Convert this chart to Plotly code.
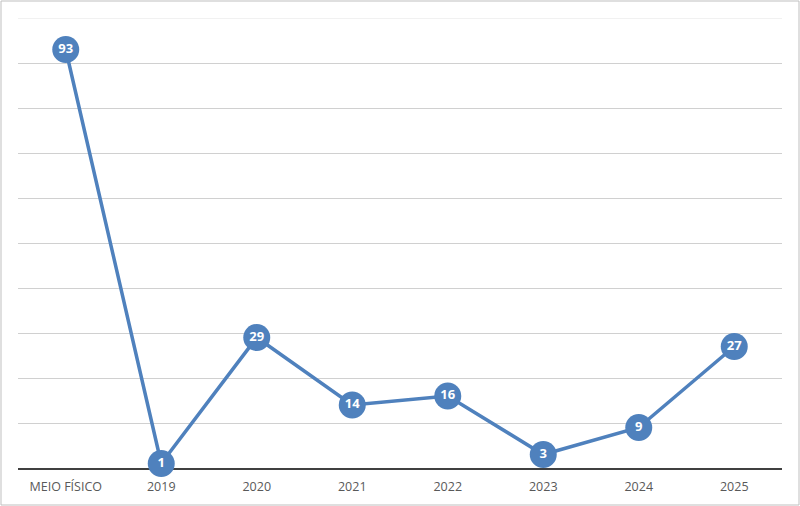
import plotly.graph_objects as go

categories = ["MEIO FÍSICO", "2019", "2020", "2021", "2022", "2023", "2024", "2025"]
values = [93, 1, 29, 14, 16, 3, 9, 27]

W, H = 800, 506
ml, mr, mt, mb = 18, 18, 18, 38
pw, ph = W - ml - mr, H - mt - mb

fig = go.Figure()
fig.add_trace(go.Scatter(
    x=categories, y=values, mode="lines+markers+text",
    line=dict(color="#4F81BD", width=3.5),
    marker=dict(size=27, color="#4F81BD", line=dict(width=0)),
    text=["<b>%d</b>" % v for v in values], textposition="middle center",
    textfont=dict(color="white", size=13, family="Open Sans"),
    cliponaxis=False, hoverinfo="skip",
))

fig.update_layout(
    width=W, height=H, margin=dict(l=ml, r=mr, t=mt, b=mb),
    paper_bgcolor="white", plot_bgcolor="white", showlegend=False,
    xaxis=dict(type="category", showgrid=False, showline=True, linecolor="#404040",
               linewidth=2, ticks="", tickfont=dict(size=12.5, color="#595959", family="Open Sans"),
               layer="below traces", range=[-0.5, len(categories) - 0.5], fixedrange=True,
               ticklabelstandoff=6),
    yaxis=dict(range=[0, 100], dtick=10, showticklabels=False, showgrid=True,
               gridcolor="#d0d0d0", gridwidth=1, zeroline=False, showline=False,
               layer="below traces", fixedrange=True),
    shapes=[
        dict(type="rect", xref="paper", yref="paper",
             x0=-(ml - 1) / pw, x1=1 + (mr - 1) / pw,
             y0=-(mb - 1) / ph, y1=1 + (mt - 1) / ph,
             line=dict(color="#bfbfbf", width=1), layer="below"),
        dict(type="line", xref="paper", yref="y", x0=0, x1=1, y0=100, y1=100,
             line=dict(color="#e3e3e3", width=1), layer="below"),
    ],
)

fig.write_html("out.html", post_script="document.body.style.margin='0';",
               config={"displayModeBar": False, "staticPlot": True})
